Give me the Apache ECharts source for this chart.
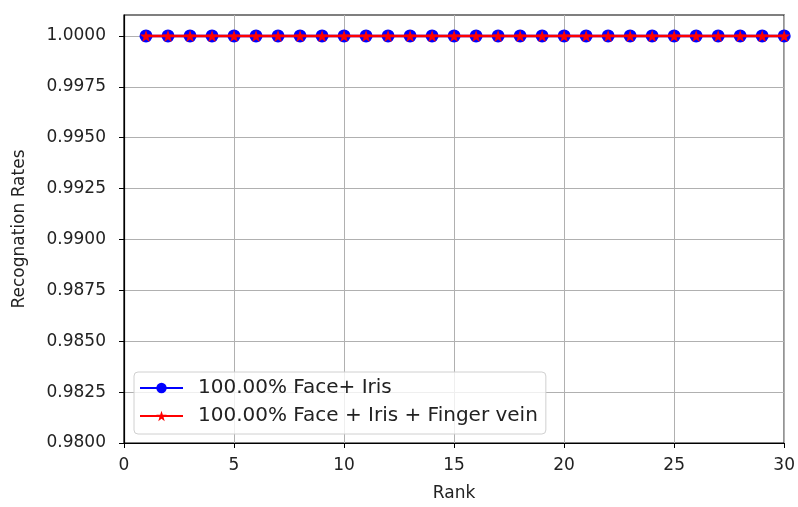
<!DOCTYPE html>
<html>
<head>
<meta charset="utf-8">
<script src="https://cdn.jsdelivr.net/npm/echarts@6/dist/echarts.min.js"></script>
<style>html,body{margin:0;padding:0;background:#fff;}#c{width:798px;height:507px;}</style>
</head>
<body>
<div id="c"></div>
<script>
const ranks = [1,2,3,4,5,6,7,8,9,10,11,12,13,14,15,16,17,18,19,20,21,22,23,24,25,26,27,28,29,30];
const faceIris = [1,1,1,1,1,1,1,1,1,1,1,1,1,1,1,1,1,1,1,1,1,1,1,1,1,1,1,1,1,1];
const faceIrisFinger = [1,1,1,1,1,1,1,1,1,1,1,1,1,1,1,1,1,1,1,1,1,1,1,1,1,1,1,1,1,1];
const seriesNames = ['100.00% Face+ Iris', '100.00% Face + Iris + Finger vein'];
const xTicks = [0,5,10,15,20,25,30];
const yTicks = [0.98,0.9825,0.985,0.9875,0.99,0.9925,0.995,0.9975,1.0];

const chart = echarts.init(document.getElementById('c'), null, {renderer:'canvas'});
const font = 'DejaVu Sans';
chart.setOption({
  animation: false,
  backgroundColor: '#fff',
  textStyle: {fontFamily: font},
  grid: {left: 124, right: 10, top: 15, bottom: 61, show: true, borderColor: '#000', borderWidth: 1.2, backgroundColor: 'transparent'},
  legend: {
    orient: 'vertical', left: 134, top: 372,
    padding: [6, 8, 8, 5],
    itemGap: 8,
    itemWidth: 43, itemHeight: 13,
    backgroundColor: 'rgba(255,255,255,0.8)',
    borderColor: '#d0d0d0', borderWidth: 1, borderRadius: 4,
    textStyle: {fontFamily: font, fontSize: 20, color: '#222', padding: [0,0,0,10]},
    data: seriesNames
  },
  xAxis: {
    type: 'value', min: 0, max: 30, interval: 5,
    name: 'Rank', nameLocation: 'middle', nameGap: 42,
    nameTextStyle: {fontFamily: font, fontSize: 17, color: '#222'},
    axisLine: {show: true, onZero: false, lineStyle: {color: '#000', width: 1.2}},
    axisTick: {show: true, length: 5, lineStyle: {color: '#000'}, customValues: xTicks},
    axisLabel: {fontFamily: font, fontSize: 17, color: '#222', margin: 14, customValues: xTicks},
    splitLine: {show: true, lineStyle: {color: '#b0b0b0', width: 1}}
  },
  yAxis: {
    type: 'value', min: 0.98, max: 1.00103,
    name: 'Recognation Rates', nameLocation: 'middle', nameGap: 96,
    nameTextStyle: {fontFamily: font, fontSize: 17, color: '#222'},
    axisLine: {show: true, onZero: false, lineStyle: {color: '#000', width: 1.2}},
    axisTick: {show: true, length: 5, lineStyle: {color: '#000'}, customValues: yTicks},
    axisLabel: {fontFamily: font, fontSize: 17, color: '#222', margin: 18, customValues: yTicks,
      formatter: v => v.toFixed(4)},
    splitLine: {show: true, lineStyle: {color: '#b0b0b0', width: 1}}
  },
  series: [
    {
      name: seriesNames[0], type: 'line',
      data: ranks.map((r, i) => [r, faceIris[i]]),
      symbol: 'circle', symbolSize: 13,
      itemStyle: {color: '#0000ff'},
      lineStyle: {color: '#0000ff', width: 2.5},
      z: 2
    },
    {
      name: seriesNames[1], type: 'line',
      data: ranks.map((r, i) => [r, faceIrisFinger[i]]),
      symbol: 'path://M0,-10 L2.35,-3.24 L9.51,-3.09 L3.80,1.24 L5.88,8.09 L0,4 L-5.88,8.09 L-3.80,1.24 L-9.51,-3.09 L-2.35,-3.24 Z',
      symbolSize: 12,
      itemStyle: {color: '#ff0000'},
      lineStyle: {color: '#ff0000', width: 2.5},
      z: 3
    }
  ]
});
</script>
</body>
</html>
